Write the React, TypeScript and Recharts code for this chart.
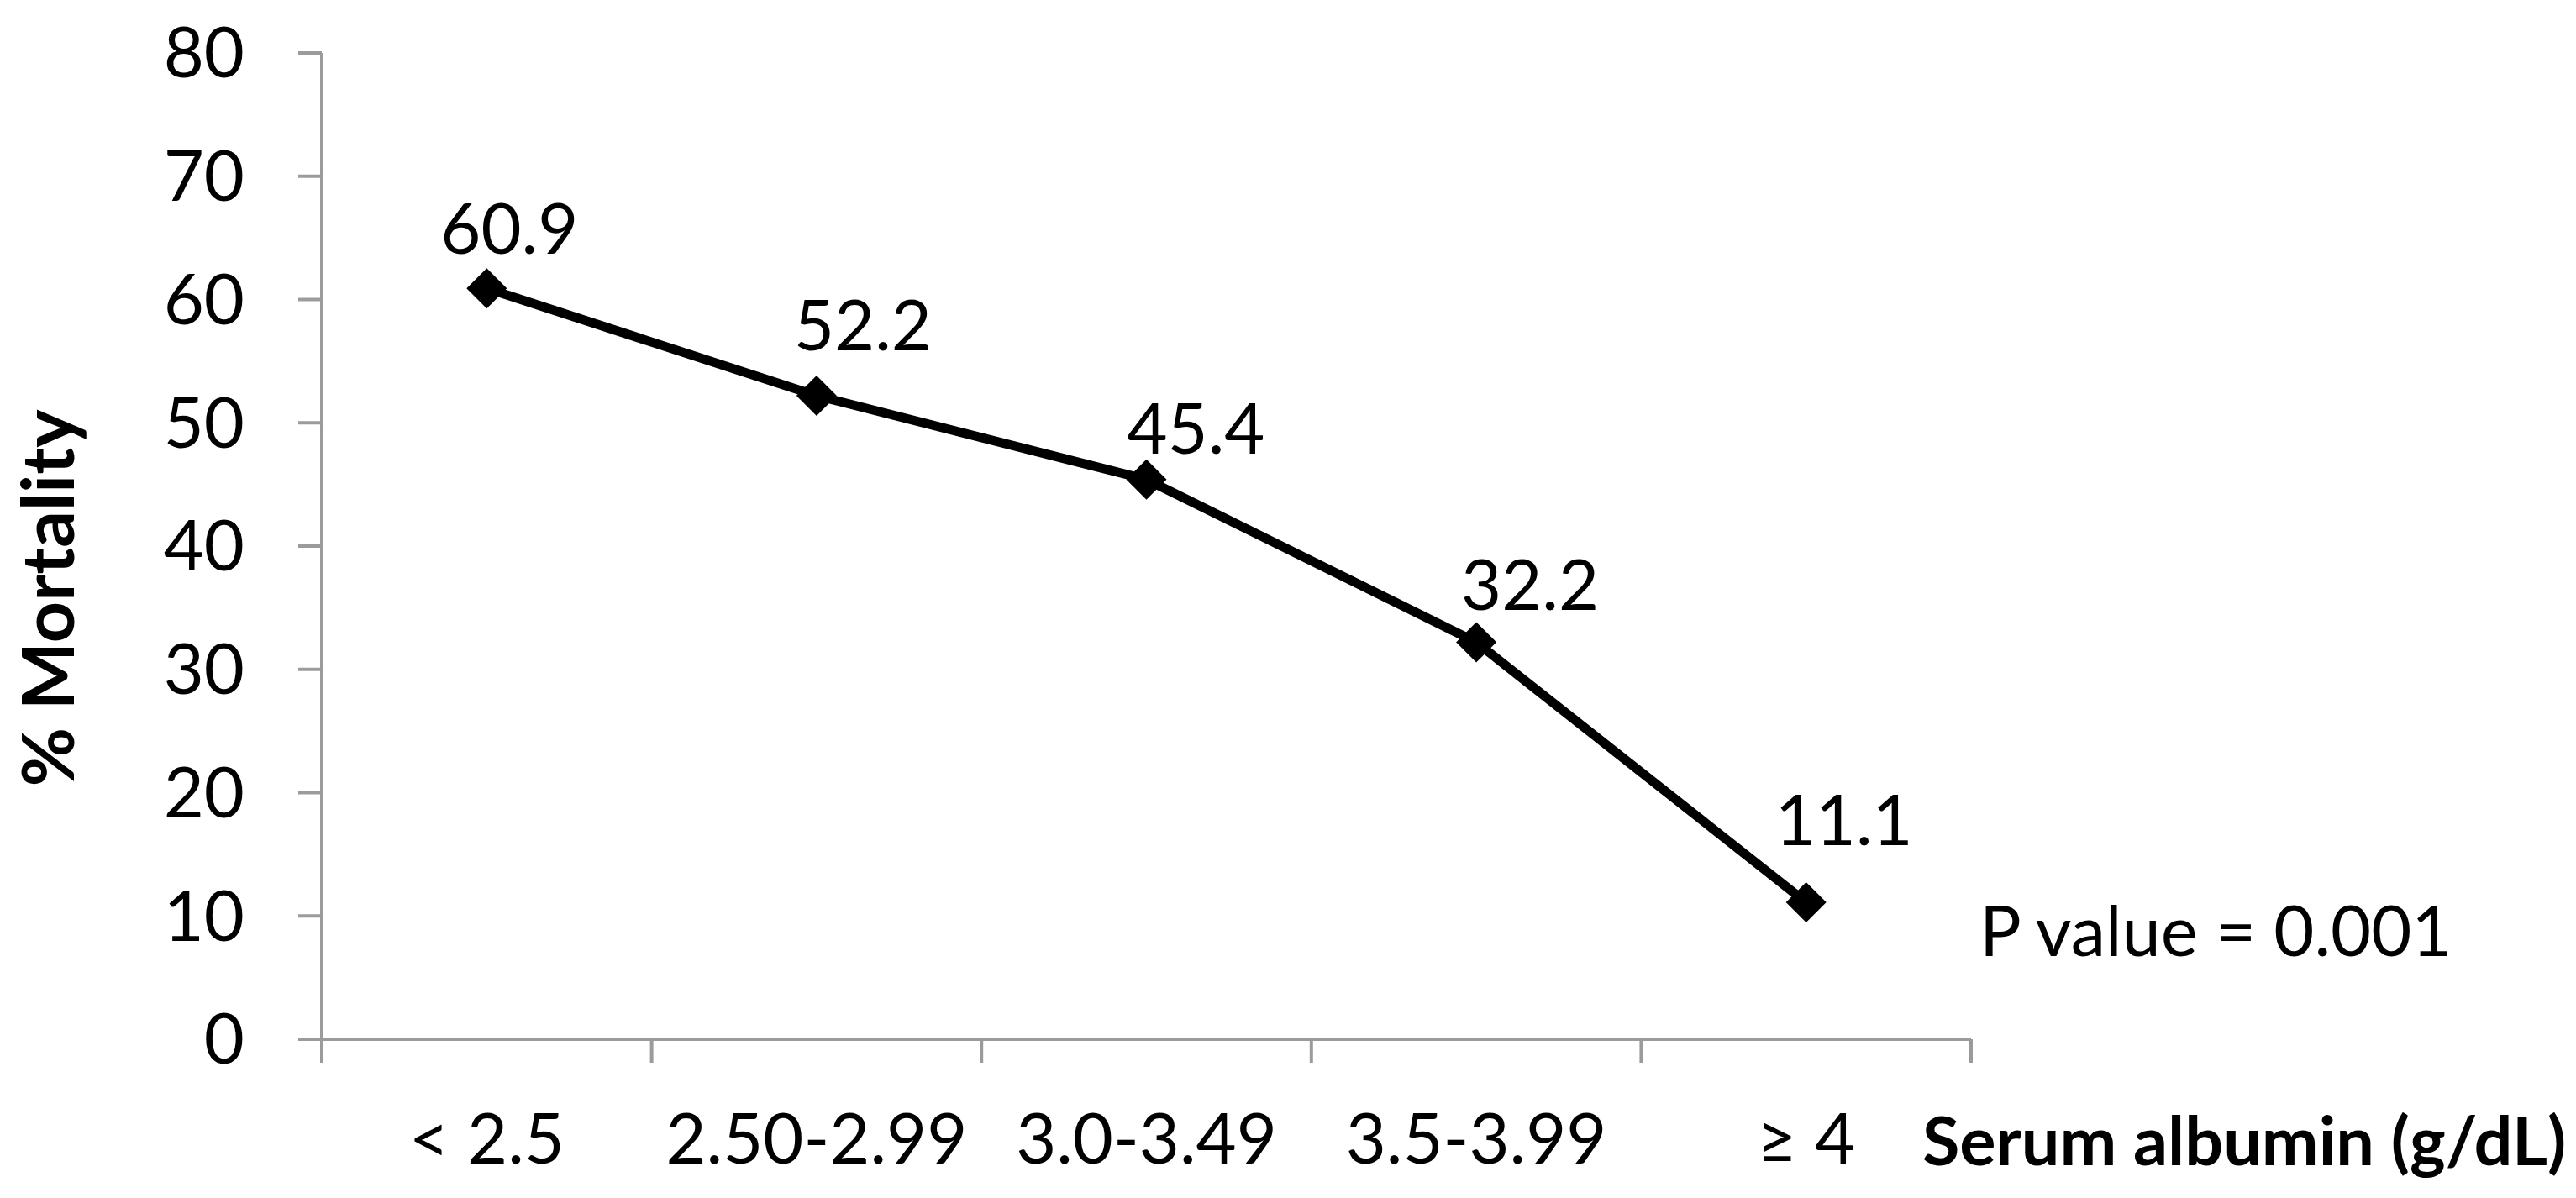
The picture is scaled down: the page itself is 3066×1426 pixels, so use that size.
import React from 'react';
import { LineChart, Line, XAxis, YAxis, LabelList } from 'recharts';

// albumin bands (g/dL) and the mortality
const CATEGORIES = ['< 2.5', '2.50-2.99', '3.0-3.49', '3.5-3.99', '≥ 4'];
const MORTALITY = [60.9, 52.2, 45.4, 32.2, 11.1];
const Y_TICKS = [0, 10, 20, 30, 40, 50, 60, 70, 80];
const P_VALUE_TEXT = 'P value = 0.001';

// hand-placed label nudges (dx to text centre, dy to baseline), like the original
const LABEL_NUDGE = [
    [27, -41],
    [55, -54],
    [59, -31],
    [64, -38],
    [45, -68],
];

const W = 3066;
const H = 1426;
const AXIS_GREY = '#9b9b9b';
const FONT = 'Lato, "Open Sans", sans-serif';
const TICK_LEN = 28;

// x ticks: integers are band boundaries (tick marks), halves carry the category text
const X_TICKS = Array.from({ length: CATEGORIES.length * 2 + 1 }, (_, i) => i / 2);

const chartData = CATEGORIES.map((name, i) => ({
    name,
    pos: i + 0.5,
    mortality: MORTALITY[i],
}));

const BandTick = (props: any) => {
    const { x, y, payload } = props;
    const v = payload.value;
    if (Number.isInteger(v)) {
        return <line x1={x} x2={x} y1={y - TICK_LEN} y2={y} stroke={AXIS_GREY} strokeWidth={4} />;
    }
    return (
        <text x={x} y={y + 120} textAnchor="middle" fontSize={83} fontFamily={FONT} fill="#000">
            {CATEGORIES[Math.floor(v)]}
        </text>
    );
};

const Diamond = (props: any) => {
    const { cx, cy, index } = props;
    if (cx == null || cy == null) return null;
    const r = 24;
    return (
        <polygon
            key={`d-${index}`}
            points={`${cx},${cy - r} ${cx + r},${cy} ${cx},${cy + r} ${cx - r},${cy}`}
            fill="#000"
        />
    );
};

const ValueLabel = (props: any) => {
    const { x, y, value, index } = props;
    const [dx, dy] = LABEL_NUDGE[index] || [0, -40];
    return (
        <text x={x + dx} y={y + dy} textAnchor="middle" fontSize={83} fontFamily={FONT} fill="#000">
            {value}
        </text>
    );
};

export default function App() {
    return (
        <div style={{ position: 'absolute', left: 0, top: 0, width: W, height: H, background: '#fff' }}>
            <LineChart
                width={W}
                height={H}
                data={chartData}
                margin={{ top: 63, right: 720, left: 0, bottom: 0 }}
            >
                <XAxis
                    dataKey="pos"
                    type="number"
                    domain={[0, CATEGORIES.length]}
                    ticks={X_TICKS}
                    interval={0}
                    height={189}
                    tickLine={false}
                    tickSize={TICK_LEN}
                    tickMargin={0}
                    axisLine={{ stroke: AXIS_GREY, strokeWidth: 4 }}
                    tick={<BandTick />}
                />
                <YAxis
                    width={383}
                    domain={[0, 80]}
                    ticks={Y_TICKS}
                    interval={0}
                    tickSize={TICK_LEN}
                    tickMargin={64}
                    axisLine={{ stroke: AXIS_GREY, strokeWidth: 4 }}
                    tickLine={{ stroke: AXIS_GREY, strokeWidth: 4 }}
                    tick={{ fontSize: 83, fontFamily: FONT, fill: '#000' }}
                />
                <Line
                    dataKey="mortality"
                    type="linear"
                    stroke="#000"
                    strokeWidth={11}
                    dot={<Diamond />}
                    activeDot={false}
                    isAnimationActive={false}
                >
                    <LabelList dataKey="mortality" content={<ValueLabel />} />
                </Line>
            </LineChart>
            <svg width={W} height={H} style={{ position: 'absolute', left: 0, top: 0, pointerEvents: 'none' }}>
                <text
                    x={88}
                    y={712}
                    transform="rotate(-90, 88, 712)"
                    textAnchor="middle"
                    fontSize={86}
                    fontWeight="bold"
                    fontFamily={FONT}
                    fill="#000"
                >
                    % Mortality
                </text>
                <text x={2288} y={1387} fontSize={81} fontWeight="bold" fontFamily={FONT} fill="#000">
                    Serum albumin (g/dL)
                </text>
                <text x={2356} y={1138} fontSize={83} fontFamily={FONT} fill="#000">
                    {P_VALUE_TEXT}
                </text>
            </svg>
        </div>
    );
}
